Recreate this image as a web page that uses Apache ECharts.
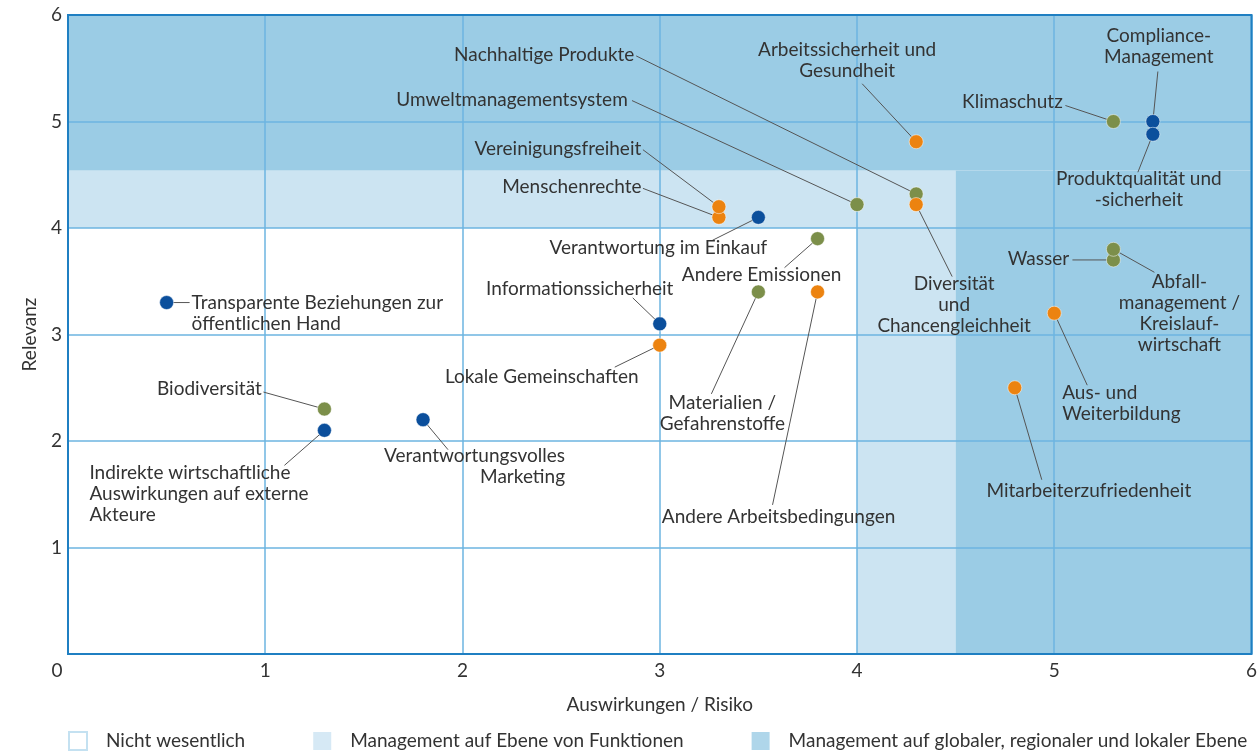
<!DOCTYPE html>
<html>
<head>
<meta charset="utf-8">
<script src="https://cdn.jsdelivr.net/npm/echarts@6/dist/echarts.min.js"></script>
<style>
  html, body { margin: 0; padding: 0; background: #fff; }
  #chart { width: 1260px; height: 754px; }
</style>
</head>
<body>
<div id="chart"></div>
<script>
// Themen: [Auswirkungen, Relevanz, Name]
var governance = [
    [0.5, 3.3, 'Transparente Beziehungen zur\nöffentlichen Hand'],
    [1.3, 2.1, 'Indirekte wirtschaftliche\nAuswirkungen auf externe\nAkteure'],
    [1.8, 2.2, 'Verantwortungsvolles\nMarketing'],
    [3.0, 3.1, 'Informationssicherheit'],
    [3.5, 4.1, 'Verantwortung im Einkauf'],
    [5.5, 5.0, 'Compliance-\nManagement'],
    [5.5, 4.88, 'Produktqualität und\n-sicherheit']
];
var umwelt = [
    [1.3, 2.3, 'Biodiversität'],
    [3.5, 3.4, 'Materialien /\nGefahrenstoffe'],
    [3.8, 3.9, 'Andere Emissionen'],
    [4.0, 4.22, 'Umweltmanagementsystem'],
    [4.3, 4.32, 'Nachhaltige Produkte'],
    [5.3, 5.0, 'Klimaschutz'],
    [5.3, 3.7, 'Wasser'],
    [5.3, 3.8, 'Abfall-\nmanagement /\nKreislauf-\nwirtschaft']
];
var soziales = [
    [3.0, 2.9, 'Lokale Gemeinschaften'],
    [3.3, 4.1, 'Menschenrechte'],
    [3.3, 4.2, 'Vereinigungsfreiheit'],
    [3.8, 3.4, 'Andere Arbeitsbedingungen'],
    [4.3, 4.22, 'Diversität\nund\nChancengleichheit'],
    [4.3, 4.81, 'Arbeitssicherheit und\nGesundheit'],
    [5.0, 3.2, 'Aus- und\nWeiterbildung'],
    [4.8, 2.5, 'Mitarbeiterzufriedenheit']
];

// Zonen-Grenzen
var zoneLabels = ['Nicht wesentlich', 'Management auf Ebene von Funktionen', 'Management auf globaler, regionaler und lokaler Ebene'];
var lightZone = [[[0, 4], [4.5, 4.54]], [[4, 0], [4.5, 4]]];
var darkZone = [[[0, 4.54], [6, 6]], [[4.5, 0], [6, 4.54]]];

// label offsets in px from the point: [dx, dy, align], then end of the leader line [ex, ey]
var labelPos = {
    'Transparente Beziehungen zur\nöffentlichen Hand': [25, 11, 'left', 23, 0],
    'Indirekte wirtschaftliche\nAuswirkungen auf externe\nAkteure': [-235, 64, 'left', -40, 35],
    'Verantwortungsvolles\nMarketing': [142, 47, 'right', 25, 30],
    'Informationssicherheit': [-80, -35, 'center', -27, -26],
    'Verantwortung im Einkauf': [-100, 31, 'center', -46, 23],
    'Compliance-\nManagement': [6, -75, 'center', 5, -50],
    'Produktqualität und\n-sicherheit': [-14, 55, 'center', -15, 38],
    'Biodiversität': [-115, -20, 'center', -61, -17],
    'Materialien /\nGefahrenstoffe': [-36, 121, 'center', -47, 102],
    'Andere Emissionen': [-56, 36, 'center', -33, 29],
    'Umweltmanagementsystem': [-345, -105, 'center', -225, -104],
    'Nachhaltige Produkte': [-372, -139, 'center', -280, -138],
    'Klimaschutz': [-101, -20, 'center', -48, -16],
    'Wasser': [-75, -1, 'center', -41, 0],
    'Abfall-\nmanagement /\nKreislauf-\nwirtschaft': [66, 64, 'center', 41, 23],
    'Lokale Gemeinschaften': [-118, 32, 'center', -45, 22],
    'Menschenrechte': [-147, -30, 'center', -76, -29],
    'Vereinigungsfreiheit': [-161, -58, 'center', -76, -57],
    'Andere Arbeitsbedingungen': [-39, 225, 'center', -45, 213],
    'Diversität\nund\nChancengleichheit': [38, 100, 'center', 36, 72],
    'Arbeitssicherheit und\nGesundheit': [-69, -81, 'center', -54, -58],
    'Aus- und\nWeiterbildung': [8, 90, 'left', 33, 72],
    'Mitarbeiterzufriedenheit': [74, 103, 'center', 27, 92]
};

var FONT = 'Lato';
var FS = 19;
var TEXT = '#333';
var allTopics = governance.concat(umwelt, soziales);

function topicSeries(name, data, color) {
    return {
        name: name,
        type: 'scatter',
        z: 5,
        data: data,
        symbolSize: 14,
        itemStyle: { color: color, borderColor: 'rgba(255,255,255,0.5)', borderWidth: 1, opacity: 1 },
        label: {
            show: true,
            position: 'inside',
            formatter: function (p) { return p.data[2]; },
            color: TEXT,
            fontFamily: FONT,
            fontSize: FS,
            lineHeight: 21
        },
        labelLayout: function (p) {
            var o = labelPos[data[p.dataIndex][2]];
            return { dx: o[0], dy: o[1], align: o[2] };
        },
        emphasis: { disabled: true }
    };
}

function zoneSeries(name, areas, color, border) {
    return {
        name: name,
        type: 'scatter',
        z: 1,
        data: [],
        itemStyle: { color: color, borderColor: border || color, borderWidth: border ? 1 : 0 },
        markArea: {
            silent: true,
            itemStyle: { color: color },
            data: areas.map(function (a) { return [{ coord: a[0] }, { coord: a[1] }]; })
        }
    };
}

var chart = echarts.init(document.getElementById('chart'));
chart.setOption({
    animation: false,
    textStyle: { fontFamily: FONT },
    grid: {
        left: 68, right: 8, top: 15, bottom: 100,
        show: true, z: 4,
        backgroundColor: 'transparent',
        borderColor: '#1f7fc2', borderWidth: 2
    },
    legend: {
        data: zoneLabels,
        left: 63, top: 726,
        icon: 'rect',
        itemWidth: 18, itemHeight: 18,
        itemGap: 68,
        selectedMode: false,
        textStyle: { color: TEXT, fontSize: FS, fontFamily: FONT, padding: [0, 0, 0, 14] }
    },
    xAxis: {
        type: 'value', min: 0, max: 6, interval: 1, z: 3,
        name: 'Auswirkungen / Risiko', nameLocation: 'middle', nameGap: 41,
        nameTextStyle: { color: TEXT, fontSize: FS, fontFamily: FONT },
        axisLine: { show: false },
        axisTick: { show: false },
        splitLine: { lineStyle: { color: '#6db5e0', width: 1.5 } },
        axisLabel: {
            color: TEXT, fontSize: FS, fontFamily: FONT, margin: 7,
            formatter: function (v) { return v === 0 ? '{o|0}' : String(v); },
            rich: { o: { color: TEXT, fontSize: FS, fontFamily: FONT, padding: [0, 22, 0, 0] } }
        }
    },
    yAxis: {
        type: 'value', min: 0, max: 6, interval: 1, z: 3,
        name: 'Relevanz', nameLocation: 'middle', nameGap: 29,
        nameTextStyle: { color: TEXT, fontSize: FS, fontFamily: FONT },
        axisLine: { show: false },
        axisTick: { show: false },
        splitLine: { lineStyle: { color: '#6db5e0', width: 1.5 } },
        axisLabel: { color: TEXT, fontSize: FS, fontFamily: FONT, margin: 6, showMinLabel: false }
    },
    series: [
        zoneSeries(zoneLabels[0], [], '#ffffff', '#b5d9ee'),
        zoneSeries(zoneLabels[1], lightZone, '#cce4f2'),
        zoneSeries(zoneLabels[2], darkZone, '#9bcce5'),
        {
            // leader lines from each point to its label
            type: 'custom',
            z: 4,
            silent: true,
            data: allTopics,
            encode: { x: 0, y: 1 },
            renderItem: function (params, api) {
                var p = api.coord([api.value(0), api.value(1)]);
                var o = labelPos[allTopics[params.dataIndex][2]];
                return {
                    type: 'line',
                    shape: { x1: p[0], y1: p[1], x2: p[0] + o[3], y2: p[1] + o[4] },
                    style: { stroke: '#555', lineWidth: 1 }
                };
            }
        },
        topicSeries('Governance', governance, '#0b4f9c'),
        topicSeries('Umwelt', umwelt, '#7c8f4a'),
        topicSeries('Soziales', soziales, '#ec8310')
    ]
});
</script>
</body>
</html>
